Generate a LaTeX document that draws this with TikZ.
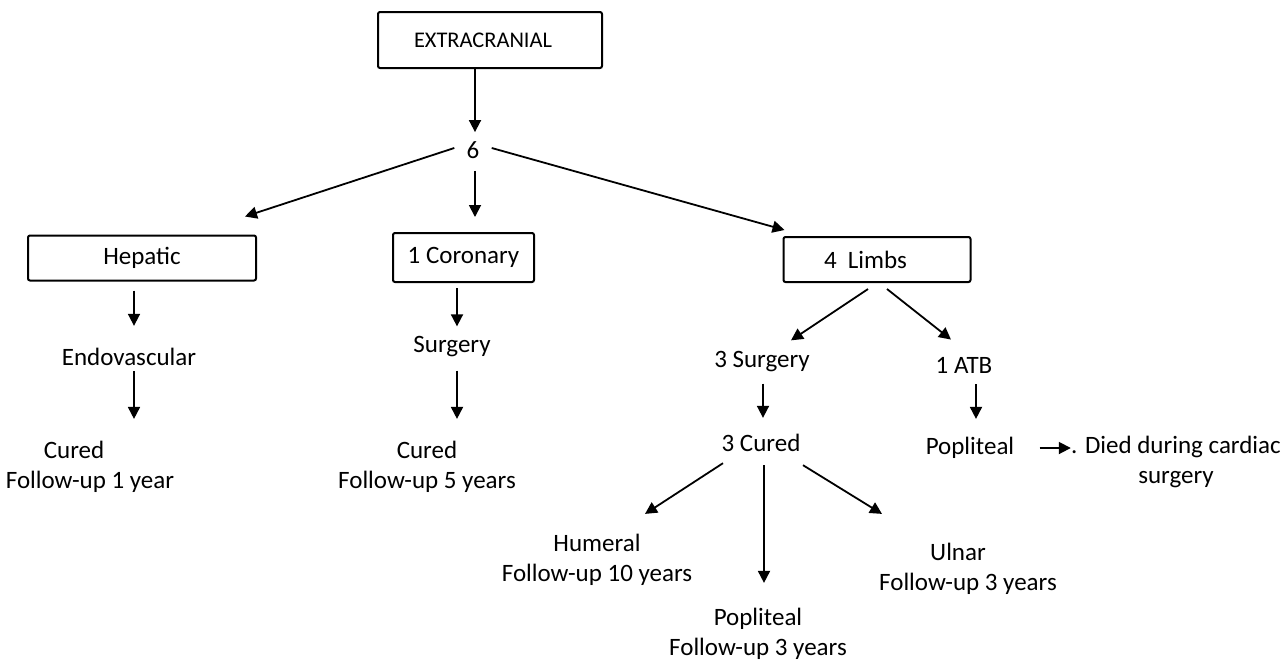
\documentclass[tikz,border=0pt]{standalone}
\usepackage{fontspec}
\setmainfont{Carlito}
\usetikzlibrary{arrows.meta, calc}
\tikzset{
    my-box/.style={
        draw, line width=1pt, rounded corners=1pt, inner sep=0pt
    },
    my-label/.style={
        inner sep=0pt, align=center
    },
    my-arrow/.style={
        line width=0.9pt, -{Triangle[length=6pt, width=6pt]}
    },
}

\begin{document}
\begin{tikzpicture}[x=0.5pt, y=-0.5pt, font=\fontsize{12.5}{15}\selectfont]

        \useasboundingbox (0, 0) rectangle (1287, 661);

        % TOP -----------------------------------------------------------------------------------------

        \node[my-box, minimum width=112pt, minimum height=28pt] (EXTRA) at (490, 40) {\fontsize{11.2}{13}\selectfont EXTRACRANIAL\hspace*{7pt}};
        \node[my-label] (SIX) at (473, 150) {6};
        \draw[my-arrow] ($(EXTRA.south)+(-15,0)$) -- ($(SIX.north)+(2,-9)$);

        % FIRST LEVEL BOXES
        \node[my-box, minimum width=114pt,  minimum height=22.5pt] (HEP)  at (142, 258)   {Hepatic};
        \node[my-box, minimum width=70.5pt, minimum height=24.5pt] (COR)  at (463.5, 257.5) {1 Coronary};
        \node[my-box, minimum width=93.5pt, minimum height=22.5pt] (LIMB) at (877, 259.5) {4\ \ Limbs\hspace*{11.5pt}};

        % ARROWS FROM 6
        \draw[my-arrow] ($(SIX.west)+(-12,-2)$) -- ($(HEP.north)+(103,-18)$);
        \draw[my-arrow] ($(SIX.south)+(2,12)$)  -- ($(SIX.south |- COR.north)+(2,-15)$);
        \draw[my-arrow] ($(SIX.east)+(12,-2)$)  -- ($(LIMB.north west)+(2,-6)$);

        % HEPATIC BRANCH ------------------------------------------------------------------------------

        \node[my-label] (ENDO) at (129, 357) {Endovascular};
        \node[my-label, align=left] (CURED1) at (90, 467) {\hspace*{19pt}Cured\\Follow-up 1 year};
        \draw[my-arrow] ($(HEP.south)+(-8,9)$)  -- ($(ENDO.north)+(5,-22)$);
        \draw[my-arrow] ($(ENDO.south)+(5,5)$)  -- ($(CURED1.north)+(44,-22)$);

        % CORONARY BRANCH -----------------------------------------------------------------------------

        \node[my-label] (SURG1)  at (452, 347) {Surgery};
        \node[my-label] (CURED2) at (427, 467) {Cured\\Follow-up 5 years};
        \draw[my-arrow] ($(COR.south)+(-6.5,5)$) -- ($(SURG1.north)+(5,-10)$);
        \draw[my-arrow] ($(SURG1.south)+(5,13)$) -- ($(CURED2.north)+(30,-22)$);

        % LIMBS BRANCH --------------------------------------------------------------------------------

        \node[my-label] (SURG3)  at (762, 362)  {3 Surgery};
        \node[my-label] (ATB)    at (964, 365)  {1 ATB};
        \node[my-label] (CURED3) at (761, 443)  {3 Cured};
        \node[my-label] (POP1)   at (970, 448)  {Popliteal};
        \node[my-label] (DIED)   at (1176, 462) {. Died during cardiac\\surgery};

        \draw[my-arrow] ($(LIMB.south)+(-9,6)$)  -- ($(SURG3.north)+(29,-11)$);
        \draw[my-arrow] ($(LIMB.south)+(10,6)$)  -- ($(ATB.north)+(-13,-17)$);
        \draw[my-arrow] ($(SURG3.south)+(1,11)$) -- ($(CURED3.north)+(2,-16)$);
        \draw[my-arrow] ($(ATB.south)+(12,11)$)  -- ($(POP1.north)+(6,-18)$);
        \draw[my-arrow] ($(POP1.east)+(25,0)$)   -- (POP1 -| DIED.west);

        % 3 CURED SPLIT
        \node[my-label] (HUM)   at (597, 560) {Humeral\\Follow-up 10 years};
        \node[my-label] (ULNAR) at (968, 569) {Ulnar\hspace*{10pt}\\Follow-up 3 years};
        \node[my-label] (POP2)  at (758, 634) {Popliteal\\Follow-up 3 years};

        \draw[my-arrow] ($(CURED3.south)+(-38,11)$) -- ($(HUM.north)+(48,-20)$);
        \draw[my-arrow] ($(CURED3.south)+(3,13)$)   -- ($(POP2.north)+(6,-25)$);
        \draw[my-arrow] ($(CURED3.south)+(42,13)$)  -- ($(ULNAR.north)+(-86,-29)$);

    \end{tikzpicture}
\end{document}
